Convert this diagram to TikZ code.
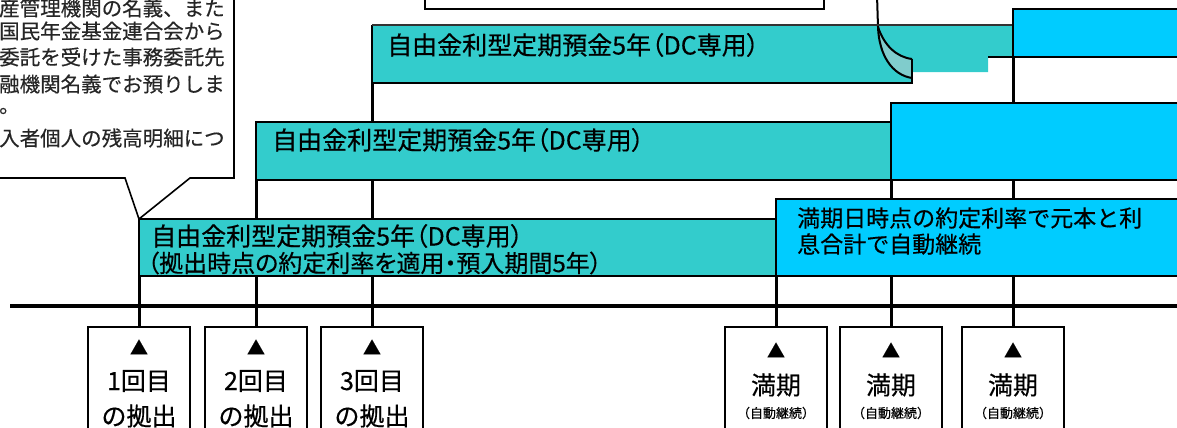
\documentclass[tikz,border=0pt]{standalone}
\usepackage{fontspec}
\setmainfont{Noto Sans CJK JP}[FakeBold=0.4]
\definecolor{barteal}{HTML}{33CCCC}
\definecolor{barblue}{HTML}{00CCFF}
\definecolor{curlteal}{HTML}{80CCCC}
\newcommand{\jfs}[1]{\fontsize{#1}{#1}\selectfont}

\begin{document}
\begin{tikzpicture}[x=1pt, y=-1pt,
  bar/.style={line width=2pt, anchor=north west, inner sep=0pt, outer sep=0pt},
  tealbar/.style={bar, draw, fill=barteal},
  bluebar/.style={bar, draw, fill=barblue},
  bartext/.style={anchor=west, inner sep=0pt, font=\jfs{25}\addfontfeature{RawFeature=+palt}},
  calltext/.style={anchor=west, inner sep=0pt, text=black!85, font=\jfs{20.5}},
  pbox/.style={draw, line width=2pt, fill=white, anchor=north, outer sep=0pt,
               minimum width=102pt, minimum height=120pt},
  tlmark/.style={inner sep=0pt, font=\jfs{18}},
  tltext/.style={inner sep=0pt, font=\jfs{25}},
  tlsmall/.style={inner sep=0pt, font=\jfs{13}},
  vline/.style={line width=3pt}]
\useasboundingbox (0,0) rectangle (1177,428);
\clip (0,0) rectangle (1177,428);

% callout on the left
\coordinate (tip) at (139,219);
\draw[fill=white, line width=1.6pt] (-20,178) -- (125,178) -- (tip) -- (190,178)
  -- (234,178) -- (234,-20);
\node[calltext] (c1) at (-1,8)   {産管理機関の名義、また};
\node[calltext] (c2) at (-1,31)  {国民年金基金連合会から};
\node[calltext] (c3) at (-1,57)  {委託を受けた事務委託先};
\node[calltext] (c4) at (-1,84)  {融機関名義でお預りしま};
\node[calltext] (c5) at (-1,111) {。};
\node[calltext] (c6) at (-1,138) {入者個人の残高明細につ};

% box at the top
\draw[fill=white, line width=2pt] (425,-10) rectangle (824,9);

% boxes under the time line
\node[pbox] (b1) at (139,327)  {};
\node[pbox] (b2) at (256,327)  {};
\node[pbox] (b3) at (372,327)  {};
\node[pbox] (b4) at (776,327)  {};
\node[pbox] (b5) at (891,327)  {};
\node[pbox] (b6) at (1013,327) {};

% bar corners for the drop lines
\coordinate (tl0) at (10,306);
\coordinate (tl1) at (1190,306);
\coordinate (d1sw) at (139,276);
\coordinate (d2sw) at (256,180);
\coordinate (d3sw) at (372,83);
\coordinate (e1sw) at (776,276);
\coordinate (e2sw) at (891,180);
\coordinate (e3sw) at (1013,57);
\draw[vline] (b1.north) -- (d1sw);
\draw[vline] (b2.north) -- (d2sw);
\draw[vline] (b3.north) -- (d3sw);
\draw[vline] (b4.north) -- (e1sw);
\draw[vline] (b5.north) -- (e2sw);
\draw[vline] (b6.north) -- (e3sw);

% top bar with the curled end
\node[bar, fill=barteal, minimum width=540pt, minimum height=58pt] (d3) at (372,25) {};
\fill[barteal] (912,25) -- (1013,25) -- (1013,57) -- (988,57) -- (988,72) -- (912,72) -- cycle;
\fill[curlteal] (878,27) .. controls (879,55) and (892,75) .. (912,78) -- (912,59)
  .. controls (896,57) and (884,45) .. (878,27) -- cycle;
\draw[line width=2pt] (877,-5) -- (878,27) .. controls (879,55) and (892,75) .. (912,78);
\draw[line width=2pt] (878,27) .. controls (884,45) and (896,57) .. (912,59);
\draw[line width=2pt] (912,59) -- (d3.south east) -- (d3.south west) -- (d3.north west);
\draw[line width=1.4pt, black!80] (d3.north west) -- (1013,25);
\node[bluebar, minimum width=200pt, minimum height=48pt] (e3) at (1013,9) {};
\draw[line width=2pt] (988,57) -- (e3.south west);

\node[tealbar, minimum width=635pt, minimum height=58pt] (d2) at (256,122) {};
\node[bluebar, minimum width=305pt, minimum height=77pt, anchor=south west] (e2) at (d2.south east) {};
\node[tealbar, minimum width=637pt, minimum height=57pt] (d1) at (tip) {};
\node[bluebar, minimum width=420pt, minimum height=77pt, anchor=south west] (e1) at (d1.south east) {};

\draw[line width=3.5pt] (tl0) -- (tl1);

% bar texts
\node[bartext] (t3) at (387,45)  {自由金利型定期預金5年（DC専用）};
\node[bartext] (t2) at (272,140) {自由金利型定期預金5年（DC専用）};
\node[bartext] (t1a) at (151,236) {自由金利型定期預金5年（DC専用）};
\node[bartext, font=\jfs{24}\addfontfeature{RawFeature=+palt}] (t1b) at (147,263) {（拠出時点の約定利率を適用・預入期間5年）};
\node[bartext, font=\jfs{23}] (u1a) at (797,218) {満期日時点の約定利率で元本と利};
\node[bartext, font=\jfs{23}] (u1b) at (797,244) {息合計で自動継続};

% texts in the boxes
\node[tlmark] (b1a) at (139,347) {▲};
\node[tltext] (b1b) at (139,381) {1回目};
\node[tltext] (b1c) at (139,416) {の拠出};
\node[tlmark] (b2a) at (256,347) {▲};
\node[tltext] (b2b) at (256,381) {2回目};
\node[tltext] (b2c) at (256,416) {の拠出};
\node[tlmark] (b3a) at (372,347) {▲};
\node[tltext] (b3b) at (372,381) {3回目};
\node[tltext] (b3c) at (372,416) {の拠出};
\node[tlmark] (b4a) at (776,350) {▲};
\node[tltext] (b4b) at (776,385) {満期};
\node[tlsmall] (b4c) at (776,413) {（自動継続）};
\node[tlmark] (b5a) at (891,350) {▲};
\node[tltext] (b5b) at (891,385) {満期};
\node[tlsmall] (b5c) at (891,413) {（自動継続）};
\node[tlmark] (b6a) at (1013,350) {▲};
\node[tltext] (b6b) at (1013,385) {満期};
\node[tlsmall] (b6c) at (1013,413) {（自動継続）};
\end{tikzpicture}
\end{document}
